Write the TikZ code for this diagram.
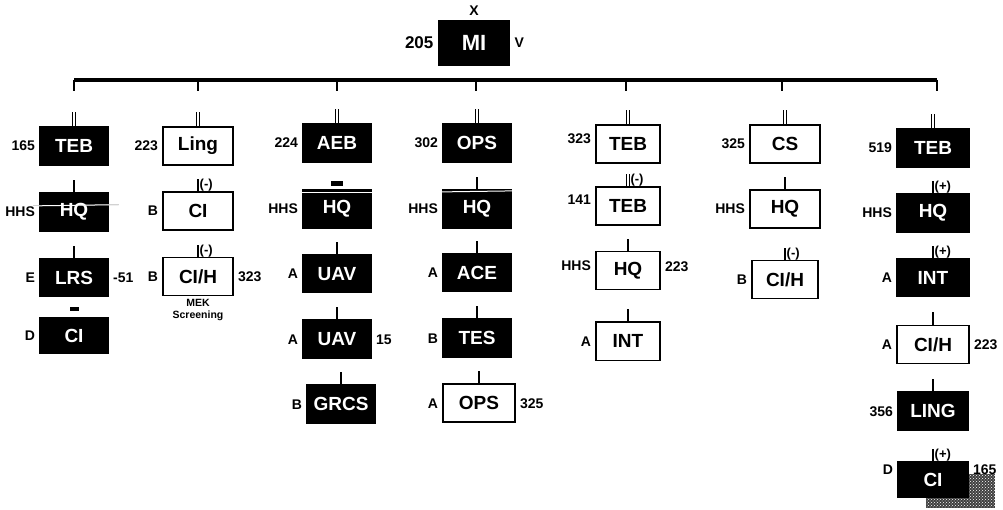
\documentclass[tikz,border=0pt]{standalone}
\usepackage{fontspec}
\setmainfont{Liberation Sans}
\usetikzlibrary{positioning,patterns}
\tikzset{
org/.style={x=1pt,y=-1pt,node distance=26pt,label distance=3pt,
every label/.style={font=\bfseries\fontsize{14}{15}\selectfont,text=black,inner sep=1pt}},
unit/.style={rectangle,draw,line width=1.8pt,minimum width=68pt,minimum height=38pt,
inner sep=0pt,font=\bfseries\fontsize{19}{20}\selectfont},
dark/.style={unit,fill=black,text=white},
light/.style={unit,fill=white},
stub/.style={line width=1.4pt},
twin/.style={double,double distance=2.4pt,line width=1.1pt},
sign/.style={pos=0.5,anchor=west,inner sep=1pt,font=\bfseries\fontsize{13}{14}\selectfont},
bar/.style={line width=3.2pt},
dashmark/.style={fill=black,inner sep=0pt,minimum width=#1,minimum height=4pt},
scratch/.style={white,line width=1pt},
}

\begin{document}
\begin{tikzpicture}[org]
\useasboundingbox (0,0) rectangle (1003,510);
% scan patch, lower right
\fill[black!75] (926,474) rectangle (995,508);
\fill[pattern=crosshatch dots,pattern color=white] (926,474) rectangle (995,508);

\node[dark,minimum width=71pt,minimum height=44pt,font=\bfseries\fontsize{22}{24}\selectfont] (mi) at (474,43)
  [label=above:X,label=right:V,label={[font=\bfseries\fontsize{17}{18}\selectfont]left:205}] {MI};

% the long bar
\foreach \n/\x in {b1/74,b2/198,b3/337,b4/476,b5/626,b6/782,b7/937}
  \coordinate (\n) at (\x,80);
\draw[bar] (b1) -- (b7);
\foreach \n in {b1,b2,b3,b4,b5,b6,b7}
  \draw[line width=2pt] (\n) -- ++(0,11);

% column 1
\node[dark] (teb1) at (74,146) [label=left:165] {TEB};
\node[dark] (hq1) [below=of teb1,label=left:HHS] {HQ};
\node[dark] (lrs1) [below=of hq1,label=left:E,label=right:-51] {LRS};
\node[dark,minimum height=35pt] (ci1) [below=20pt of lrs1,label=left:D] {CI};
\node[dashmark=9pt] (ci1m) [above=6pt of ci1] {};

% column 2
\node[light,minimum width=70pt] (ling2) at (198,146) [label=left:223] {Ling};
\node[light,minimum width=70pt] (ci2) [below=25pt of ling2,label=left:B] {CI};
\node[light,minimum width=70pt] (cih2) [below=of ci2,label=left:B,label=right:323,
  label={[align=center,font=\bfseries\fontsize{10.5}{12}\selectfont,label distance=2pt]below:{MEK\\Screening}}] {CI/H};

% column 3
\node[dark] (aeb3) at (337,143) [label=left:224] {AEB};
\node[dark] (hq3) [below=of aeb3,label=left:HHS] {HQ};
\node[dark] (uav3) [below=25pt of hq3,label=left:A] {UAV};
\node[dark] (uav3b) [below=of uav3,label=left:A,label=right:15] {UAV};
\node[dark] (grcs3) [below=25pt of uav3b,xshift=4pt,label=left:B] {GRCS};
\node[dashmark=12pt,minimum height=5pt] (hq3m) [above=3pt of hq3] {};

% column 4
\node[dark] (ops4) at (477,143) [label=left:302] {OPS};
\node[dark] (hq4) [below=of ops4,label=left:HHS] {HQ};
\node[dark] (ace4) [below=24pt of hq4,label=left:A] {ACE};
\node[dark] (tes4) [below=of ace4,label=left:B] {TES};
\node[light,minimum width=72pt] (ops4b) [below=25pt of tes4,xshift=2pt,label=left:A,label=right:325] {OPS};

% column 5
\node[light,minimum width=64pt] (teb5) at (628,144) [label={[yshift=5pt]left:323}] {TEB};
\node[light,minimum width=64pt] (teb5b) [below=22pt of teb5,label={[yshift=6pt]left:141}] {TEB};
\node[light,minimum width=64pt] (hq5) [below=25pt of teb5b,label={[yshift=5pt]left:HHS},label={[yshift=4pt]right:223}] {HQ};
\node[light,minimum width=64pt] (int5) [below=31pt of hq5,label=left:A] {INT};

% column 6
\node[light,minimum width=70pt] (cs6) at (785,144) [label=left:325] {CS};
\node[light,minimum width=70pt] (hq6) [below=25pt of cs6,label=left:HHS] {HQ};
\node[light,minimum width=66pt] (cih6) [below=31pt of hq6,label=left:B] {CI/H};

% column 7
\node[dark,minimum width=72pt] (teb7) at (933,148) [label=left:519] {TEB};
\node[dark,minimum width=72pt] (hq7) [below=25pt of teb7,label=left:HHS] {HQ};
\node[dark,minimum width=72pt] (int7) [below=25pt of hq7,label=left:A] {INT};
\node[light,minimum width=72pt] (cih7) [below=27pt of int7,label=left:A,label=right:223] {CI/H};
\node[dark,minimum width=70pt] (ling7) [below=27pt of cih7,label=left:356] {LING};
\node[dark,minimum width=70pt,minimum height=35pt] (ci7) [below=30pt of ling7,
  label={[yshift=10pt]left:D},label={[yshift=10pt]right:165}] {CI};

% stubs over the boxes
\foreach \n in {teb1,ling2,aeb3,ops4,teb5,cs6,teb7}
  \draw[twin] (\n.north) -- ++(0,-14);
\foreach \n in {hq1,lrs1,uav3,uav3b,grcs3,hq4,ace4,tes4,ops4b,hq5,int5,hq6,cih7,ling7}
  \draw[stub] (\n.north) -- ++(0,-12);
\draw[stub] (ci2.north) -- ++(0,-12) node[sign] (ci2s) {(-)};
\draw[stub] (cih2.north) -- ++(0,-12) node[sign] (cih2s) {(-)};
\draw[twin] (teb5b.north) -- ++(0,-12) node[sign,xshift=1pt] (teb5bs) {(-)};
\draw[stub] (cih6.north) -- ++(0,-12) node[sign] (cih6s) {(-)};
\draw[stub] (hq7.north) -- ++(0,-12) node[sign] (hq7s) {(+)};
\draw[stub] (int7.north) -- ++(0,-12) node[sign] (int7s) {(+)};
\draw[stub] (ci7.north) -- ++(0,-12) node[sign] (ci7s) {(+)};

% scan marks
\draw[gray,thin] ([xshift=-6pt,yshift=6pt]hq1.west) -- ([xshift=10pt,yshift=7pt]hq1.east);
\draw[scratch] ([yshift=6pt]hq1.west) -- ([yshift=7pt]hq1.east);
\draw[scratch] ([yshift=-4pt]hq3.north west) -- ([yshift=-4pt]hq3.north east);
\draw[scratch] ([yshift=-3pt]hq4.north west) -- ([yshift=-2pt]hq4.north east);
\end{tikzpicture}
\end{document}
